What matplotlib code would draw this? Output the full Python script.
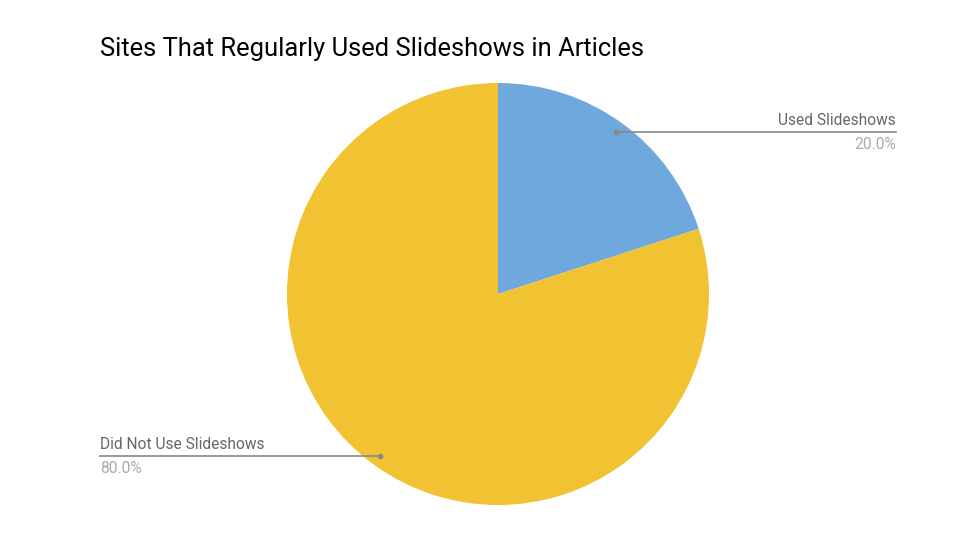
import numpy as np
import matplotlib
matplotlib.use("Agg")
import matplotlib.pyplot as plt

plt.rcParams['font.family'] = ['Roboto', 'DejaVu Sans']

title = "Sites That Regularly Used Slideshows in Articles"
labels = ["Used Slideshows", "Did Not Use Slideshows"]
values = [20.0, 80.0]
colors = ["#6fa8dc", "#f1c232"]

fig = plt.figure(figsize=(9.6, 5.4), dpi=100)
ax = fig.add_axes([0, 0, 1, 1])
ax.set_xlim(0, 960)
ax.set_ylim(0, 540)
ax.set_aspect('equal')
ax.axis('off')

cx, cy, r = 498, 540 - 294, 211
wedges, _ = ax.pie(values, colors=colors, startangle=90, counterclock=False,
                   center=(cx, cy), radius=r, frame=True,
                   wedgeprops=dict(linewidth=0))
ax.set_xlim(0, 960)
ax.set_ylim(0, 540)
ax.axis('off')

# label lines, pointing at each slice's middle
for w, lab, v in zip(wedges, labels, values):
    mid = np.deg2rad((w.theta1 + w.theta2) / 2)
    px = cx + 0.95 * r * np.cos(mid)
    py = cy + 0.95 * r * np.sin(mid)
    if np.cos(mid) > 0:
        x0, x1, ha, tx = px, 896, 'right', 896
    else:
        x0, x1, ha, tx = 100, px, 'left', 100
    ax.plot([x0, x1], [py, py], color='#888888', lw=1.2)
    ax.plot([px], [py], 'o', color='#888888', ms=3)
    ax.text(tx, py + 4, lab, ha=ha, va='bottom', fontsize=11.2, color='#666666')
    ax.text(tx, py - 5, f"{v:.1f}%", ha=ha, va='top', fontsize=11.2, color='#aaaaaa')

ax.text(100, 540 - 49, title, ha='left', va='center', fontsize=18.4, color='#000000')

fig.savefig("out.png", dpi=100)
